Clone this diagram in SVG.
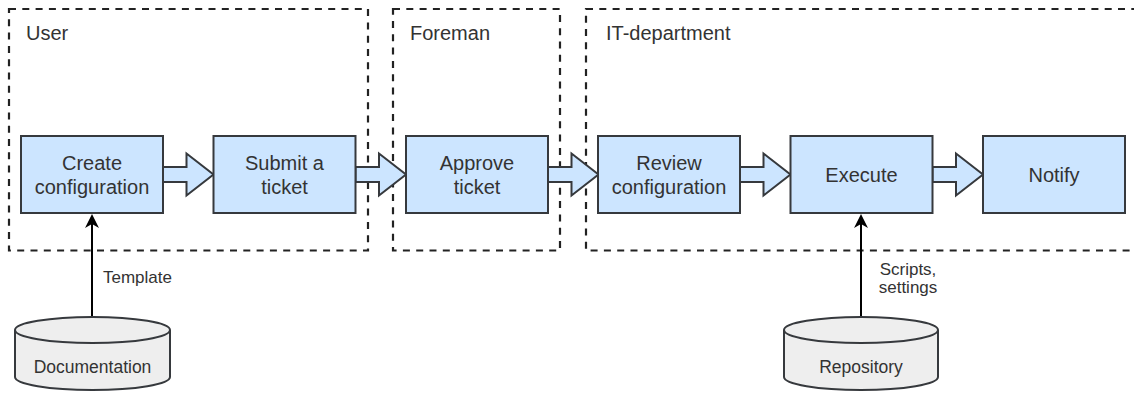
<svg xmlns="http://www.w3.org/2000/svg" width="1134" height="394" viewBox="0 0 1134 394">
  <defs>
    <style>
      .lane { fill: none; stroke: #222222; stroke-width: 2.2; stroke-dasharray: 7 6.3; }
      .lane-title { font-family: "Liberation Sans", Arial, sans-serif; font-size: 20px; fill: #333333; }
      .step { fill: #cce5ff; stroke: #36393d; stroke-width: 2; }
      .step-text { font-family: "Liberation Sans", Arial, sans-serif; font-size: 20px; fill: #333333; text-anchor: middle; }
      .flow { fill: #cce5ff; stroke: #36393d; stroke-width: 2; stroke-linejoin: miter; }
      .store { fill: #eeeeee; stroke: #36393d; stroke-width: 2; }
      .store-text { font-family: "Liberation Sans", Arial, sans-serif; font-size: 17.5px; fill: #333333; text-anchor: middle; }
      .feed { fill: none; stroke: #000000; stroke-width: 2; }
      .feed-label { font-family: "Liberation Sans", Arial, sans-serif; font-size: 17px; fill: #333333; }
    </style>
    <marker id="arrow" viewBox="0 0 14 14" refX="6" refY="7" markerWidth="14" markerHeight="14" markerUnits="userSpaceOnUse" orient="auto">
      <path d="M0,0 L14,7 L0,14 L4,7 Z" fill="#000000"/>
    </marker>
    <!-- wide block arrow between steps, origin at the source box edge -->
    <polygon id="blockArrow" class="flow" points="0,-7.5 23.5,-7.5 23.5,-21 50.5,0 23.5,21 23.5,7.5 0,7.5"/>
  </defs>

  <rect width="1134" height="394" fill="#ffffff"/>

  <!-- swimlanes -->
  <g id="lane-user">
    <rect class="lane" x="9" y="9" width="359" height="241.5"/>
    <text class="lane-title" x="26" y="40">User</text>
  </g>
  <g id="lane-foreman">
    <rect class="lane" x="393" y="9" width="167" height="241.5"/>
    <text class="lane-title" x="410" y="40">Foreman</text>
  </g>
  <g id="lane-it">
    <rect class="lane" x="586" y="9" width="570" height="241.5"/>
    <text class="lane-title" x="606" y="40">IT-department</text>
  </g>

  <!-- connectors -->
  <g id="connectors">
    <use href="#blockArrow" x="163" y="174.5"/>
    <use href="#blockArrow" x="355.5" y="174.5"/>
    <use href="#blockArrow" x="548" y="174.5"/>
    <use href="#blockArrow" x="740" y="174.5"/>
    <use href="#blockArrow" x="932.5" y="174.5"/>
    <line class="feed" x1="92" y1="317" x2="92" y2="222" marker-end="url(#arrow)"/>
    <text class="feed-label" x="103" y="283">Template</text>
    <line class="feed" x1="861" y1="317" x2="861" y2="222" marker-end="url(#arrow)"/>
    <text class="feed-label" x="908" y="275" text-anchor="middle">Scripts,</text>
    <text class="feed-label" x="908" y="293" text-anchor="middle">settings</text>
  </g>

  <!-- process steps -->
  <g id="create-configuration">
    <rect class="step" x="21" y="136" width="142" height="77"/>
    <text class="step-text" x="92" y="170">Create</text>
    <text class="step-text" x="92" y="194">configuration</text>
  </g>
  <g id="submit-ticket">
    <rect class="step" x="213.5" y="136" width="142" height="77"/>
    <text class="step-text" x="284.5" y="170">Submit a</text>
    <text class="step-text" x="284.5" y="194">ticket</text>
  </g>
  <g id="approve-ticket">
    <rect class="step" x="406" y="136" width="142" height="77"/>
    <text class="step-text" x="477" y="170">Approve</text>
    <text class="step-text" x="477" y="194">ticket</text>
  </g>
  <g id="review-configuration">
    <rect class="step" x="598" y="136" width="142" height="77"/>
    <text class="step-text" x="669" y="170">Review</text>
    <text class="step-text" x="669" y="194">configuration</text>
  </g>
  <g id="execute">
    <rect class="step" x="790.5" y="136" width="142" height="77"/>
    <text class="step-text" x="861.5" y="182">Execute</text>
  </g>
  <g id="notify">
    <rect class="step" x="983" y="136" width="142" height="77"/>
    <text class="step-text" x="1054" y="182">Notify</text>
  </g>

  <!-- data stores -->
  <g id="documentation">
    <path class="store" d="M15,330 A77.5,13 0 0 1 170,330 L170,377 A77.5,13 0 0 1 15,377 Z"/>
    <path class="store" d="M15,330 A77.5,13 0 0 0 170,330" style="fill:none"/>
    <text class="store-text" x="92.5" y="373">Documentation</text>
  </g>
  <g id="repository">
    <path class="store" d="M784,330 A77,13 0 0 1 938,330 L938,377 A77,13 0 0 1 784,377 Z"/>
    <path class="store" d="M784,330 A77,13 0 0 0 938,330" style="fill:none"/>
    <text class="store-text" x="861" y="373">Repository</text>
  </g>
</svg>
